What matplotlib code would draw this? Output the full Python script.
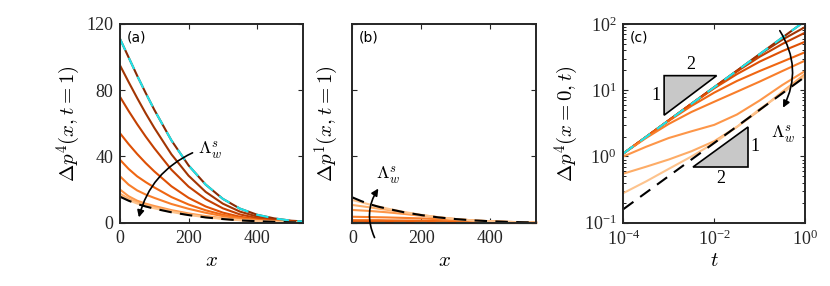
import numpy as np
import matplotlib
matplotlib.use('Agg')
import matplotlib.pyplot as plt
from matplotlib.patches import Polygon

plt.rcParams['font.family'] = 'serif'
plt.rcParams['font.serif'] = ['Liberation Serif', 'DejaVu Serif']
plt.rcParams['mathtext.fontset'] = 'cm'

# ---- data ----
x_pos = [0, 25, 50, 75, 100, 150, 200, 250, 300, 350, 400, 450, 500, 533]

# panel (a): dp4(x, t=1), dark -> light
pa_curves = [
    [111, 99.9, 88.8, 78.3, 68.2, 49.7, 34.6, 23.0, 14.4, 8.5, 4.8, 2.6, 1.2, 0.8],
    [95, 85, 75.3, 66, 57.3, 41.3, 28.4, 18.6, 11.5, 6.7, 3.7, 1.9, 0.9, 0.6],
    [76, 67.5, 59.5, 52, 45, 32, 21.8, 14.2, 8.7, 5.0, 2.8, 1.4, 0.7, 0.4],
    [54, 47.5, 41.5, 36, 31, 22, 15, 9.8, 6.1, 3.6, 2.0, 1.0, 0.5, 0.3],
    [38, 32.5, 28, 24.5, 21.3, 15.5, 11, 7.5, 4.8, 2.9, 1.7, 0.9, 0.4, 0.3],
    [28, 23, 19.5, 17, 15, 11.3, 8.4, 6, 4, 2.6, 1.5, 0.8, 0.4, 0.3],
    [20, 16, 13.3, 11.5, 10.1, 7.6, 5.6, 4.0, 2.7, 1.8, 1.1, 0.6, 0.3, 0.2],
    [17.5, 14.5, 12.3, 10.7, 9.3, 7, 5.1, 3.6, 2.5, 1.6, 1.0, 0.55, 0.3, 0.2],
    [16.3, 13.6, 11.6, 10.0, 8.7, 6.5, 4.7, 3.3, 2.3, 1.5, 0.9, 0.5, 0.25, 0.15],
]
pa_upper = [111, 99.9, 88.8, 78.3, 68.2, 49.7, 34.6, 23.0, 14.4, 8.5, 4.8, 2.6, 1.2, 0.8]
pa_lower = [15.7, 13.3, 11.3, 9.8, 8.5, 6.3, 4.6, 3.2, 2.2, 1.4, 0.9, 0.5, 0.25, 0.15]

# panel (b): dp1(x, t=1)
pb_curves = [
    [0.0] * 14,
    [0.1] * 14,
    [0.2, 0.2, 0.2, 0.2, 0.2, 0.2, 0.2, 0.2, 0.15, 0.1, 0.1, 0.1, 0.1, 0.1],
    [0.6, 0.6, 0.6, 0.6, 0.6, 0.55, 0.5, 0.45, 0.4, 0.3, 0.2, 0.15, 0.1, 0.1],
    [1.5, 1.5, 1.5, 1.5, 1.4, 1.3, 1.2, 1.0, 0.8, 0.6, 0.4, 0.3, 0.2, 0.1],
    [3.6, 3.5, 3.4, 3.3, 3.2, 2.9, 2.6, 2.1, 1.6, 1.1, 0.7, 0.4, 0.2, 0.1],
    [7.7, 7.4, 7.1, 6.7, 6.3, 5.3, 4.2, 3.1, 2.1, 1.4, 0.85, 0.5, 0.25, 0.15],
    [10.7, 10.0, 9.3, 8.5, 7.8, 6.1, 4.6, 3.3, 2.2, 1.4, 0.9, 0.5, 0.25, 0.15],
    [13.7, 12.4, 11.0, 9.8, 8.6, 6.5, 4.7, 3.3, 2.2, 1.4, 0.9, 0.5, 0.25, 0.15],
]
pb_upper = [0.0] * 14
pb_lower = [15.3, 13.1, 11.2, 9.7, 8.5, 6.3, 4.6, 3.2, 2.2, 1.4, 0.9, 0.5, 0.25, 0.15]

# panel (c): dp4(x=0, t)
t_pos = [1e-4, 10**-3.5, 1e-3, 10**-2.5, 1e-2, 10**-1.5, 1e-1, 10**-0.5, 1]
pc_curves = [
    [1.11, 1.97, 3.51, 6.24, 11.1, 19.7, 35.1, 62.4, 111],
    [1.11, 1.97, 3.51, 6.24, 11.1, 19.7, 34.8, 58, 90],
    [1.11, 1.97, 3.51, 6.24, 11.0, 19.2, 32, 50, 74],
    [1.11, 1.97, 3.5, 6.2, 10.7, 17.5, 27, 39, 54],
    [1.11, 1.96, 3.45, 5.8, 9.2, 13.8, 19.5, 27, 37.5],
    [1.11, 1.9, 3.1, 4.7, 6.7, 9.5, 13.5, 19.5, 28],
    [1.0, 1.4, 1.9, 2.4, 3.0, 4.3, 7.0, 12, 19.5],
    [0.55, 0.7, 0.9, 1.2, 1.7, 2.8, 5.0, 9.5, 17.6],
    [0.28, 0.42, 0.65, 1.0, 1.6, 2.8, 5.2, 9.0, 16.3],
]
pc_upper_t = [1e-4, 1]
pc_upper = [1.11, 111]
pc_lower = [0.16, 16]

cols = plt.cm.Oranges(np.linspace(0.97, 0.3, len(pa_curves)))
cyan = '#1ee3ea'
axcol = '#262626'

fig = plt.figure(figsize=(8.3, 2.86), dpi=100)
ax_a = fig.add_axes([0.1446, 0.2213, 0.2201, 0.6948])
ax_b = fig.add_axes([0.4245, 0.2213, 0.2213, 0.6948])
ax_c = fig.add_axes([0.7510, 0.2213, 0.2190, 0.6948])

for ax in (ax_a, ax_b, ax_c):
    for s in ax.spines.values():
        s.set_linewidth(1.4)
        s.set_color(axcol)
    ax.tick_params(direction='in', top=True, right=True, length=3.5, width=0.8,
                   labelsize=13, colors=axcol, pad=5)
    ax.tick_params(which='minor', direction='in', top=True, right=True, length=2, width=0.6)

# (a)
for c, y in zip(cols, pa_curves):
    ax_a.plot(x_pos, y, color=c, lw=1.5)
ax_a.plot(x_pos, pa_upper, color=cyan, lw=1.5, dashes=(6, 4))
ax_a.plot(x_pos, pa_lower, color='k', lw=1.5, dashes=(6, 4))
ax_a.set_xlim(0, 533)
ax_a.set_ylim(0, 120)
ax_a.set_xticks([0, 200, 400])
ax_a.set_yticks([0, 40, 80, 120])
ax_a.set_xlabel(r'$x$', fontsize=15, labelpad=4)
ax_a.set_ylabel(r'$\Delta p^4(x,t=1)$', fontsize=15, labelpad=2)
ax_a.text(0.035, 0.965, '(a)', transform=ax_a.transAxes, ha='left', va='top',
          fontsize=10, family='DejaVu Sans')
ax_a.annotate('', xy=(53, 1.6), xytext=(219, 42.9),
              arrowprops=dict(arrowstyle='-|>', color='k', lw=1.2,
                              connectionstyle='arc3,rad=0.25', mutation_scale=10))
ax_a.text(263, 44, r'$\Lambda_w^s$', fontsize=13, ha='center', va='center')

# (b)
for c, y in zip(cols, pb_curves):
    ax_b.plot(x_pos, y, color=c, lw=1.5, clip_on=False)
ax_b.plot(x_pos, pb_upper, color=cyan, lw=1.5, dashes=(6, 4), clip_on=False)
ax_b.plot(x_pos, pb_lower, color='k', lw=1.5, dashes=(6, 4))
ax_b.set_xlim(0, 533)
ax_b.set_ylim(0, 120)
ax_b.set_xticks([0, 200, 400])
ax_b.set_yticks([0, 40, 80, 120])
ax_b.set_yticklabels([])
ax_b.set_xlabel(r'$x$', fontsize=15, labelpad=4)
ax_b.set_ylabel(r'$\Delta p^1(x,t=1)$', fontsize=15, labelpad=3)
ax_b.text(0.035, 0.965, '(b)', transform=ax_b.transAxes, ha='left', va='top',
          fontsize=10, family='DejaVu Sans')
ax_b.annotate('', xy=(80, 22), xytext=(68, -10.5),
              arrowprops=dict(arrowstyle='-|>', color='k', lw=1.2,
                              connectionstyle='arc3,rad=-0.3', mutation_scale=10),
              annotation_clip=False)
ax_b.text(104, 28.5, r'$\Lambda_w^s$', fontsize=13, ha='center', va='center')

# (c)
for c, y in zip(cols, pc_curves):
    ax_c.plot(t_pos, y, color=c, lw=1.5)
ax_c.plot(pc_upper_t, pc_upper, color=cyan, lw=1.5, dashes=(6, 4))
ax_c.plot(pc_upper_t, pc_lower, color='k', lw=1.5, dashes=(6, 4))
ax_c.set_xscale('log')
ax_c.set_yscale('log')
ax_c.set_xlim(1e-4, 1)
ax_c.set_ylim(1e-1, 1e2)
ax_c.set_xticks([1e-4, 1e-2, 1])
ax_c.set_yticks([1e-1, 1, 10, 100])
ax_c.set_xlabel(r'$t$', fontsize=15, labelpad=2)
ax_c.set_ylabel(r'$\Delta p^4(x=0,t)$', fontsize=15, labelpad=2)
ax_c.text(0.035, 0.965, '(c)', transform=ax_c.transAxes, ha='left', va='top',
          fontsize=10, family='DejaVu Sans')
ax_c.add_patch(Polygon([(7.9e-4, 16.6), (0.0113, 16.6), (7.9e-4, 4.2)], closed=True,
                       facecolor='#c8c8c8', edgecolor='k', lw=1.2))
ax_c.add_patch(Polygon([(3.45e-3, 0.70), (0.0542, 0.70), (0.0542, 2.81)], closed=True,
                       facecolor='#c8c8c8', edgecolor='k', lw=1.2))
ax_c.text(3.0e-3, 18.5, '2', fontsize=13, ha='center', va='bottom')
ax_c.text(5.2e-4, 8.2, '1', fontsize=13, ha='center', va='center')
ax_c.text(0.078, 1.4, '1', fontsize=13, ha='center', va='center')
ax_c.text(0.0137, 0.62, '2', fontsize=13, ha='center', va='top')
ax_c.annotate('', xy=(0.306, 5.0), xytext=(0.257, 86),
              arrowprops=dict(arrowstyle='-|>', color='k', lw=1.2,
                              connectionstyle='arc3,rad=-0.3', mutation_scale=10))
ax_c.text(0.33, 2.2, r'$\Lambda_w^s$', fontsize=13, ha='center', va='center')

fig.savefig('out.png', dpi=100)
